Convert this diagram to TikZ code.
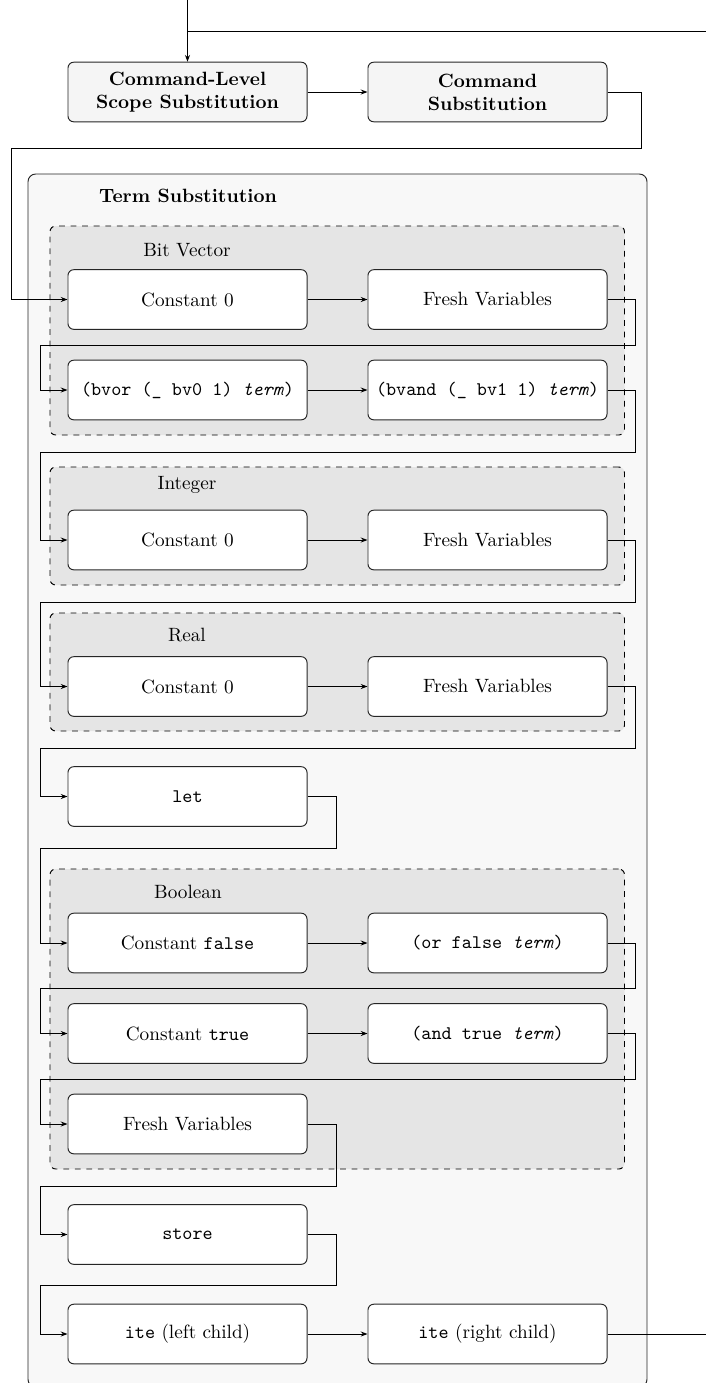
\documentclass[tikz,border=0pt]{standalone}
\usetikzlibrary{arrows.meta,fit}
\definecolor{outerfill}{HTML}{F8F8F8}
\definecolor{topfill}{HTML}{F5F5F5}
\definecolor{grpfill}{HTML}{E5E5E5}
\begin{document}
\begin{tikzpicture}[x=0.52pt,y=-0.52pt,
  stagebox/.style={draw=black!85, line width=0.5pt, rounded corners=3pt, fill=white, minimum width=124.3pt, minimum height=31pt, align=center, inner sep=2pt},
  topbox/.style={stagebox, fill=topfill, font=\bfseries},
  grp/.style={draw=black, line width=0.5pt, dashed, rounded corners=3pt, fill=grpfill, inner sep=0pt},
  outerbox/.style={draw=black!85, line width=0.5pt, rounded corners=4pt, fill=outerfill, inner sep=0pt},
  grplabel/.style={inner sep=0pt},
  conn/.style={draw=black, line width=0.5pt},
  arr/.style={conn, -{Stealth[length=3.5pt,width=2.6pt]}}
]
\useasboundingbox (0,0) rectangle (706,1383);

% containers
\node[outerbox, fit={(28,174) (647,1387)}] (term) {};
\node[grplabel, font=\bfseries] (termlbl) at (188,196) {Term Substitution};

\node[grp, fit={(50,226) (624.5,435)}] (bvg) {};
\node[grplabel] (bvlbl) at (187,250) {Bit Vector};
\node[grp, fit={(50,467) (624.5,585)}] (intg) {};
\node[grplabel] (intlbl) at (187,485) {Integer};
\node[grp, fit={(50,613) (624.5,731)}] (realg) {};
\node[grplabel] (reallbl) at (187,635) {Real};
\node[grp, fit={(50,869) (624.5,1169)}] (boolg) {};
\node[grplabel] (boollbl) at (188,892) {Boolean};

% top boxes
\node[topbox] (cls) at (187.5,92) {Command-Level\\Scope Substitution};
\node[topbox] (cs) at (487.5,92) {Command\\Substitution};

% term boxes
\node[stagebox] (bv1) at (187.5,299.5) {Constant 0};
\node[stagebox] (bv2) at (487.5,299.5) {Fresh Variables};
\node[stagebox] (bv3) at (187.5,390) {\texttt{(bvor (\_ bv0 1) \textit{term})}};
\node[stagebox] (bv4) at (487.5,390) {\texttt{(bvand (\_ bv1 1) \textit{term})}};
\node[stagebox] (int1) at (187.5,540) {Constant 0};
\node[stagebox] (int2) at (487.5,540) {Fresh Variables};
\node[stagebox] (real1) at (187.5,686.5) {Constant 0};
\node[stagebox] (real2) at (487.5,686.5) {Fresh Variables};
\node[stagebox] (let) at (187.5,796.5) {\texttt{let}};
\node[stagebox] (bf) at (187.5,943) {Constant \texttt{false}};
\node[stagebox] (bor) at (487.5,943) {\texttt{(or false \textit{term})}};
\node[stagebox] (bt) at (187.5,1033.5) {Constant \texttt{true}};
\node[stagebox] (band) at (487.5,1033.5) {\texttt{(and true \textit{term})}};
\node[stagebox] (bfresh) at (187.5,1124) {Fresh Variables};
\node[stagebox] (store) at (187.5,1234.5) {\texttt{store}};
\node[stagebox] (itel) at (187.5,1334) {\texttt{ite} (left child)};
\node[stagebox] (iter) at (487.5,1334) {\texttt{ite} (right child)};

% free ends
\coordinate (entry) at (187.5,0);
\coordinate (loopR) at (706,31);
\coordinate (loopL) at (187.5,31);
\coordinate (exit) at (706,1334);

% connectors
\draw[arr] (entry) -- (cls.north);
\draw[conn] (loopR) -- (loopL);
\draw[arr] (cls) -- (cs);
\draw[arr] (cs.east) -| (641,148) -- (11,148) |- (bv1.west);
\draw[arr] (bv1) -- (bv2);
\draw[arr] (bv2.east) -| (635,345) -- (40,345) |- (bv3.west);
\draw[arr] (bv3) -- (bv4);
\draw[arr] (bv4.east) -| (635,452) -- (40,452) |- (int1.west);
\draw[arr] (int1) -- (int2);
\draw[arr] (int2.east) -| (635,602) -- (40,602) |- (real1.west);
\draw[arr] (real1) -- (real2);
\draw[arr] (real2.east) -| (635,748) -- (40,748) |- (let.west);
\draw[arr] (let.east) -| (336,848) -- (40,848) |- (bf.west);
\draw[arr] (bf) -- (bor);
\draw[arr] (bor.east) -| (635,988) -- (40,988) |- (bt.west);
\draw[arr] (bt) -- (band);
\draw[arr] (band.east) -| (635,1079) -- (40,1079) |- (bfresh.west);
\draw[arr] (bfresh.east) -| (336,1186) -- (40,1186) |- (store.west);
\draw[arr] (store.east) -| (336,1285) -- (40,1285) |- (itel.west);
\draw[arr] (itel) -- (iter);
\draw[conn] (iter.east) -- (exit);
\end{tikzpicture}
\end{document}
